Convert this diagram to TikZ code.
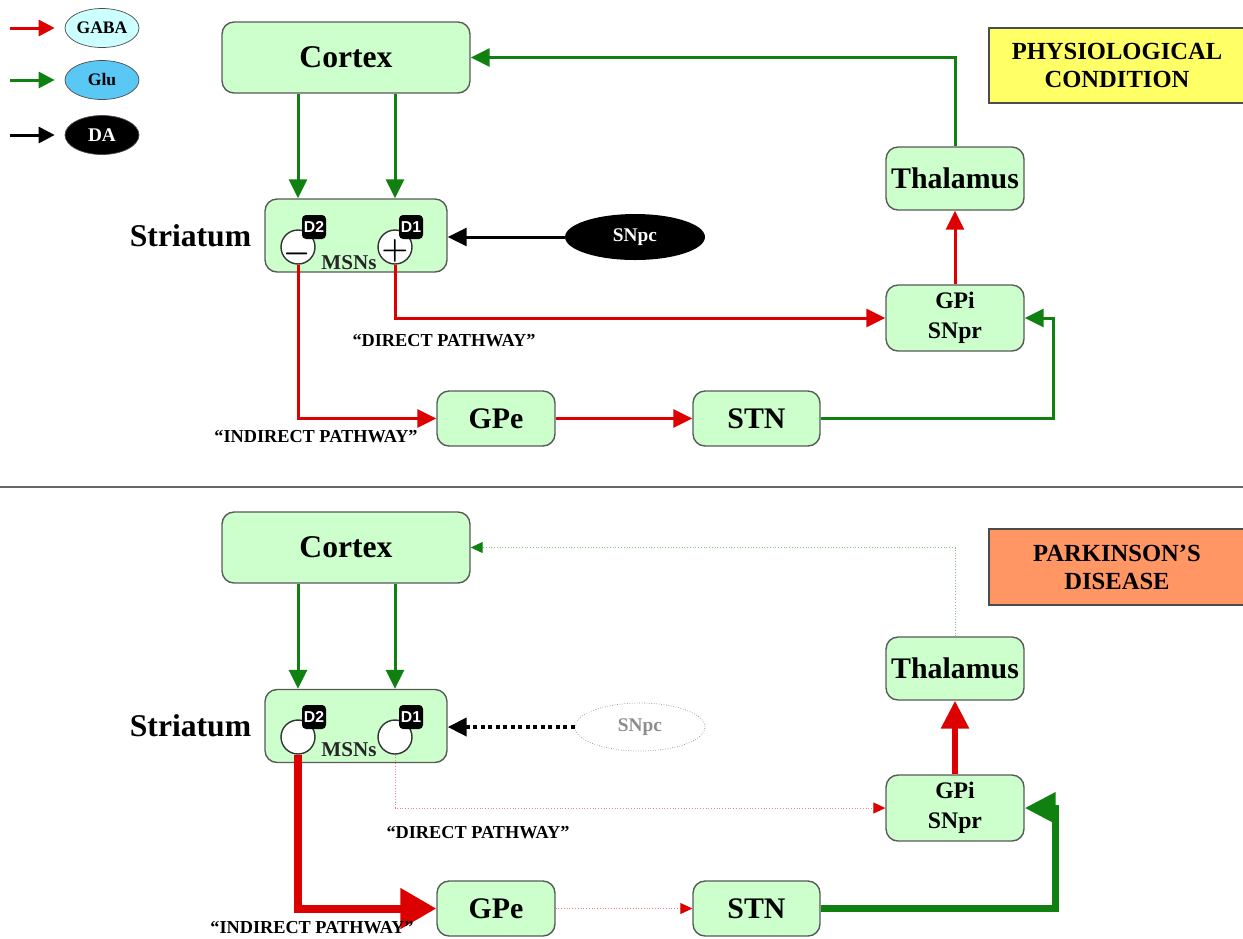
\documentclass[tikz,border=0pt]{standalone}
\usepackage{fontspec}
\setmainfont{Liberation Serif}
\setsansfont{Liberation Sans}
\usetikzlibrary{positioning,arrows.meta,shapes.geometric}

\definecolor{boxgreen}{RGB}{204,255,204}
\definecolor{gabared}{RGB}{220,0,0}
\definecolor{glugreen}{RGB}{16,128,16}
\definecolor{gabafill}{RGB}{204,255,255}
\definecolor{glufill}{RGB}{90,200,245}
\definecolor{physyellow}{RGB}{255,255,102}
\definecolor{parkorange}{RGB}{255,150,100}

\tikzset{
  area/.style={draw=black!65, fill=boxgreen, rounded corners=0.24cm, line width=0.8pt,
    inner sep=0pt, align=center, font=\bfseries\fontsize{17}{19}\selectfont},
  small area/.style={area, font=\bfseries\fontsize{13.5}{17}\selectfont},
  recep/.style={circle, draw=black!80, fill=white, line width=0.8pt, minimum size=0.68cm,
    inner sep=0pt},
  sign/.style={inner sep=0pt, font=\boldmath\fontsize{16}{16}\selectfont},
  badge/.style={fill=black, rounded corners=0.08cm, minimum size=0.48cm, inner sep=0pt,
    text=white, font=\sffamily\bfseries\fontsize{9}{9}\selectfont},
  label/.style={font=\bfseries\fontsize{10.4}{12}\selectfont},
  tag/.style={draw=black!70, line width=0.8pt, minimum width=5.12cm, minimum height=1.5cm,
    align=center, font=\bfseries\fontsize{14}{16}\selectfont},
  nt/.style={ellipse, draw=black!70, minimum width=1.48cm, minimum height=0.78cm, inner sep=0pt,
    font=\bfseries\fontsize{10}{12}\selectfont},
  tip/.style={-{Triangle[length=0.38cm,width=0.36cm]}},
  gaba/.style={draw=gabared, line width=0.06cm, tip},
  glu/.style={draw=glugreen, line width=0.06cm, tip},
  da/.style={draw=black, line width=0.06cm, tip},
  legend/.style={line width=0.06cm, shorten >=0.2cm, -{Triangle[length=0.32cm,width=0.32cm]}},
}

\begin{document}
\begin{tikzpicture}[x=0.02cm, y=-0.02cm]
  \useasboundingbox (0,0) rectangle (1243,938);
  % legend
  \node[nt, fill=gabafill] (gabaL) at (102,28) {GABA};
  \node[nt, fill=glufill] (gluL) at (102,80) {Glu};
  \node[nt, fill=black, text=white, font=\bfseries\fontsize{11}{12}\selectfont] (daL) at (102,135) {DA};
  \coordinate (la1) at (10,28);
  \coordinate (la2) at (10,80);
  \coordinate (la3) at (10,135);
  \draw[legend, draw=gabared] (la1) -- (gabaL.west);
  \draw[legend, draw=glugreen] (la2) -- (gluL.west);
  \draw[legend, draw=black] (la3) -- (daL.west);

  % physiological condition
  \node[tag, fill=physyellow] (phys) at (1117,65.5) {PHYSIOLOGICAL\\CONDITION};
  \node[area, minimum width=4.96cm, minimum height=1.42cm, font=\bfseries\fontsize{18}{20}\selectfont] (ctx) at (346,57.5) {Cortex};
  \node[area, minimum width=3.64cm, minimum height=1.46cm] (str) at (356,235.5) {};
  \node[left = 0.14cm of str, font=\bfseries\fontsize{18}{20}\selectfont] (strL) {Striatum};
  \node[recep] (d2) at (298,247) {};
  \node[recep] (d1) at (395,247) {};
  \node[sign] (d2s) at (297,254) {$-$};
  \node[sign] (d1s) at (395,251) {$+$};
  \node[badge] (d2b) at (314,227) {D2};
  \node[badge] (d1b) at (411,227) {D1};
  \node[font=\bfseries\fontsize{12}{14}\selectfont, text=black!85] (msn) at (349,263) {MSNs};
  \node[ellipse, fill=black, text=white, minimum width=2.8cm, minimum height=0.92cm, inner sep=0pt,
    font=\bfseries\fontsize{11}{12}\selectfont] (snpc) at (635,237) {SNpc};
  \node[area, minimum width=2.76cm, minimum height=1.26cm] (thal) at (955,178.5) {Thalamus};
  \node[small area, minimum width=2.76cm, minimum height=1.32cm] (gpi) at (955,318) {GPi\\SNpr};
  \node[area, minimum width=2.36cm, minimum height=1.1cm] (gpe) at (496,418.5) {GPe};
  \node[area, minimum width=2.54cm, minimum height=1.1cm] (stn) at (756.5,418.5) {STN};
  \coordinate (stnc) at (1053,418.5);
  \draw[glu] (ctx.south -| d2) -- (str.north -| d2);
  \draw[glu] (ctx.south -| d1) -- (str.north -| d1);
  \draw[da] (snpc.west) -- (snpc.west -| str.east);
  \draw[gaba] (d1.south) |- (gpi.west);
  \draw[gaba] (d2.south) |- (gpe.west);
  \draw[gaba] (gpe) -- (stn);
  \draw[glu] (stn.east) -- (stnc) |- (gpi.east);
  \draw[gaba] (gpi.north) -- (thal.south);
  \draw[glu] (thal.north) |- (ctx.east);
  \node[label] (dirL) at (444,341) {“DIRECT PATHWAY”};
  \node[label] (indL) at (316,437) {“INDIRECT PATHWAY”};

  % separator
  \draw[black!60, line width=0.8pt] (0,487) -- (1243,487);

  % parkinson's disease
  \node[tag, fill=parkorange, minimum height=1.52cm] (park) at (1117,567) {PARKINSON’S\\DISEASE};
  \node[area, minimum width=4.96cm, minimum height=1.42cm, font=\bfseries\fontsize{18}{20}\selectfont] (ctxP) at (346,547.5) {Cortex};
  \node[area, minimum width=3.64cm, minimum height=1.46cm] (strP) at (356,726) {};
  \node[left = 0.14cm of strP, font=\bfseries\fontsize{18}{20}\selectfont] (strLP) {Striatum};
  \node[recep] (d2P) at (298,737) {};
  \node[recep] (d1P) at (395,737) {};
  \node[badge] (d2bP) at (314,717) {D2};
  \node[badge] (d1bP) at (411,717) {D1};
  \node[font=\bfseries\fontsize{12}{14}\selectfont, text=black!85] (msnP) at (349,750) {MSNs};
  \node[ellipse, draw=black!45, densely dotted, text=black!45, minimum width=2.6cm, minimum height=0.96cm,
    inner sep=0pt, font=\bfseries\fontsize{11}{12}\selectfont] (snpcP) at (640,727) {SNpc};
  \node[area, minimum width=2.76cm, minimum height=1.26cm] (thalP) at (955,668.5) {Thalamus};
  \node[small area, minimum width=2.76cm, minimum height=1.32cm] (gpiP) at (955,808) {GPi\\SNpr};
  \node[area, minimum width=2.36cm, minimum height=1.1cm] (gpeP) at (496,908.5) {GPe};
  \node[area, minimum width=2.54cm, minimum height=1.1cm] (stnP) at (756.5,908.5) {STN};
  \coordinate (stncP) at (1055,908.5);
  \draw[glu] (ctxP.south -| d2P) -- (strP.north -| d2P);
  \draw[glu] (ctxP.south -| d1P) -- (strP.north -| d1P);
  \draw[da, line width=0.08cm, dash pattern=on 0.08cm off 0.07cm] (snpcP.west) -- (snpcP.west -| strP.east);
  \draw[draw=gabared!50, line width=0.02cm, densely dotted,
    -{Triangle[length=0.24cm,width=0.22cm,color=gabared]}] (d1P.south) |- (gpiP.west);
  \draw[draw=gabared, line width=0.16cm, -{Triangle[length=0.72cm,width=0.78cm]}] (d2P.south) |- (gpeP.west);
  \draw[draw=gabared!50, line width=0.02cm, densely dotted,
    -{Triangle[length=0.24cm,width=0.22cm,color=gabared]}] (gpeP) -- (stnP);
  \draw[draw=glugreen, line width=0.14cm, -{Triangle[length=0.62cm,width=0.6cm]}] (stnP.east) -- (stncP) |- (gpiP.east);
  \draw[draw=gabared, line width=0.12cm, -{Triangle[length=0.56cm,width=0.54cm]}] (gpiP.north) -- (thalP.south);
  \draw[draw=glugreen!50, line width=0.02cm, densely dotted,
    -{Triangle[length=0.24cm,width=0.22cm,color=glugreen]}] (thalP.north) |- (ctxP.east);
  \node[label] (dirLP) at (478,833) {“DIRECT PATHWAY”};
  \node[label] (indLP) at (312,928) {“INDIRECT PATHWAY”};
\end{tikzpicture}
\end{document}
